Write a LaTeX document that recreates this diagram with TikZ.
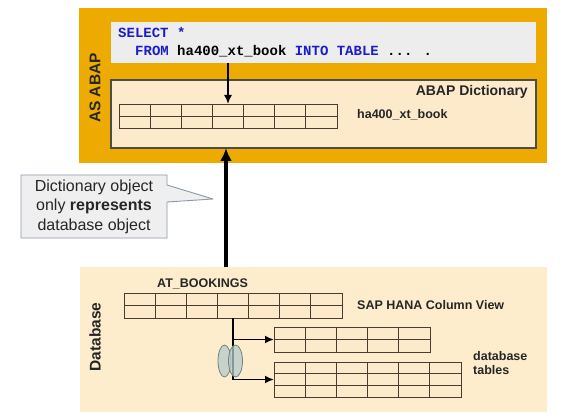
\documentclass[tikz,border=0pt]{standalone}
\usepackage{fontspec}
\setmainfont{Liberation Sans}
\newfontfamily\codefont{Liberation Mono}
\usetikzlibrary{arrows.meta,calc,backgrounds}
\definecolor{abaporange}{HTML}{EDAA00}
\definecolor{dictfill}{HTML}{FDEACB}
\definecolor{dbfill}{HTML}{FDEDCC}
\definecolor{codefill}{HTML}{EDEDED}
\definecolor{kw}{HTML}{1C1CC8}
\definecolor{gridc}{HTML}{4A3C30}
\definecolor{callfill}{HTML}{EFEFEF}
\definecolor{callline}{HTML}{8A9AAA}
\definecolor{ellfill}{HTML}{B4CACA}
\definecolor{elldraw}{HTML}{6F8585}
\newcommand{\tgrid}[5]{%
  \foreach \i in {1,...,#3}
    \draw[gridline] ($(#1.north west)!\i/#2!(#1.north east)$) -- ($(#1.south west)!\i/#2!(#1.south east)$);
  \foreach \j in {1,...,#5}
    \draw[gridline] ($(#1.north west)!\j/#4!(#1.south west)$) -- ($(#1.north east)!\j/#4!(#1.south east)$);
}
\tikzset{
  panel/.style={draw=none, inner sep=0pt, outer sep=0pt},
  tbl/.style={draw=gridc, line width=0.9pt, fill=dictfill, inner sep=0pt, outer sep=0pt},
  gridline/.style={draw=gridc, line width=0.9pt},
  lbl/.style={inner sep=0pt, font=\fontsize{12.5}{14.5}\selectfont\bfseries, text=black!85},
  vlbl/.style={inner sep=0pt, rotate=90, font=\fontsize{15.5}{18}\selectfont\bfseries, text=black!85},
  code/.style={inner sep=0pt, anchor=west, font=\codefont\fontsize{14}{16}\selectfont\bfseries},
  smallarrow/.style={draw=black, line width=1.8pt, -{Latex[length=9pt,width=8pt]}},
  bigarrow/.style={draw=black, line width=4pt, -{Latex[length=13pt,width=12pt]}},
  joinell/.style={draw=elldraw, line width=0.8pt, fill=ellfill, fill opacity=0.75},
}
\begin{document}
\begin{tikzpicture}[x=1pt, y=-1pt]
\useasboundingbox (0,0) rectangle (565,417);
\begin{scope}[on background layer]
\fill[white] (0,0) rectangle (565,417);
\end{scope}
% AS ABAP area
\node[panel, fill=abaporange, minimum width=468pt, minimum height=155pt] (asabap) at (313,85.5) {};
\node[panel, fill=codefill, minimum width=425pt, minimum height=41pt] (codebox) at (323.5,42.5) {};
\node[code, text=kw] (sql1) at (118,33) {SELECT *};
\node[code] (sql2) at (135,51) {\textcolor{kw}{FROM} ha400\_xt\_book \textcolor{kw}{INTO TABLE} ... .};
\node[draw=black!70, line width=1.2pt, fill=dictfill, inner sep=0pt, outer sep=0pt, minimum width=425pt, minimum height=68pt] (dict) at (323.5,114) {};
\node[lbl, anchor=east, font=\fontsize{14}{16}\selectfont\bfseries] (dictlbl) at (528,92) {ABAP Dictionary};
\node[tbl, minimum width=218pt, minimum height=24pt] (dtab) at (228,116) {};
\tgrid{dtab}{7}{6}{2}{1}
\node[lbl, anchor=west] (dtablbl) at (357,115) {ha400\_xt\_book};
\node[vlbl] (asabaplbl) at (95,88) {AS ABAP};
\draw[smallarrow, line width=1.6pt] (codebox.south -| dtab.north) -- (dtab.north);
% Database area
\node[panel, fill=dbfill, minimum width=467pt, minimum height=145pt] (db) at (313.5,339.5) {};
\node[vlbl] (dblbl) at (95,337) {Database};
\node[lbl, anchor=west] (atb) at (157,284) {AT\_BOOKINGS};
\node[tbl, minimum width=218pt, minimum height=25pt] (cv) at (233,305.5) {};
\tgrid{cv}{7}{6}{2}{1}
\node[lbl, anchor=west] (cvlbl) at (357,305) {SAP HANA Column View};
\node[tbl, minimum width=156pt, minimum height=25pt] (t2) at (352,339.5) {};
\tgrid{t2}{5}{4}{2}{1}
\node[tbl, minimum width=187pt, minimum height=35pt] (t3) at (367.5,379.5) {};
\tgrid{t3}{6}{5}{3}{2}
\node[lbl, anchor=west, align=left] (tlbl) at (473,363) {database\\tables};
\draw[smallarrow] (cv.south) |- (t3.west);
\draw[smallarrow] (cv.south |- t2.west) -- (t2.west);
\draw[joinell] (224.5,361) ellipse [x radius=6.5, y radius=16];
\draw[joinell] (235.5,361) ellipse [x radius=7, y radius=16];
% big arrow
\draw[bigarrow] (db.north -| 226,0) -- (dict.south -| 226,0);
% callout
\node[inner sep=0pt, outer sep=0pt, minimum width=146pt, minimum height=63pt, align=center,
      font=\fontsize{16}{19.5}\selectfont, text=black!85] (call) at (94,206.5)
  {Dictionary object\\only \textbf{represents}\\database object};
\coordinate (tip) at (213,199);
\begin{scope}[on background layer]
\draw[draw=callline, line width=0.9pt, fill=callfill, line join=round]
  (call.north west) -- (call.north east) -- ([yshift=-10pt]call.north east) -- (tip)
  -- ([yshift=-27pt]call.north east) -- (call.south east) -- (call.south west) -- cycle;
\end{scope}
\end{tikzpicture}
\end{document}
